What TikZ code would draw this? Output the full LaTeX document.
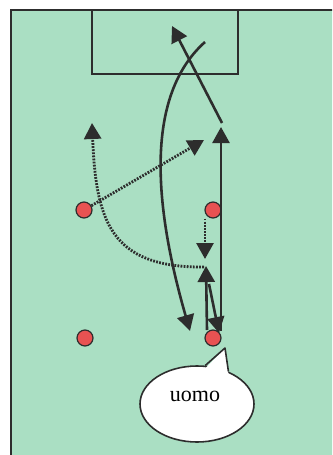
\documentclass[tikz,border=0pt]{standalone}
\usepackage{fontspec}
\setmainfont{Liberation Serif}
\usetikzlibrary{arrows.meta,shapes.geometric}
\definecolor{fieldgreen}{RGB}{170,223,195}
\definecolor{ink}{RGB}{45,45,45}
\definecolor{playerred}{RGB}{232,82,82}
\begin{document}
\begin{tikzpicture}[
        x=1pt, y=-1pt,
        player/.style={circle, draw=ink, line width=1.2pt, fill=playerred, minimum size=16pt, inner sep=0pt},
        run/.style={->, draw=ink, line width=2.6pt},
        pass/.style={->, draw=ink, line width=2.8pt, dash pattern=on 1.8pt off 1.3pt},
        bubble/.style={ellipse, draw=ink, line width=1.6pt, fill=white, minimum width=114pt, minimum height=76pt, inner sep=0pt},
        >={Triangle[width=17pt, length=16pt]}
    ]
        \useasboundingbox (0,0) rectangle (332,455);
        \clip (0,0) rectangle (332,455);
        % Field and goal box
        \fill[fieldgreen] (11,10) rectangle (340,460);
        \draw[ink, line width=2pt] (11,460) -- (11,10) -- (340,10);
        \draw[ink, line width=2pt] (92,10) rectangle (238,74);

        % Players
        \node[player] (pL) at (84,210) {};
        \node[player] (pR) at (213,210) {};
        \node[player] (pBL) at (85,338) {};
        \node[player] (pBR) at (213,338) {};

        % Arrow ends
        \coordinate (runA) at (221,331);
        \coordinate (runB) at (221,127);
        \coordinate (shotA) at (222,123);
        \coordinate (shotB) at (172,26);
        \coordinate (curveA) at (205,42);
        \coordinate (curveB) at (190,331);
        \coordinate (passA) at (204,140);
        \coordinate (dropB) at (205,259);
        \coordinate (backA) at (204,267);
        \coordinate (backB) at (92,123);
        \coordinate (upA) at (207,330);
        \coordinate (upB) at (206,266);
        \coordinate (retA) at (209,284);
        \coordinate (retB) at (219,333);
        \coordinate (tail) at (225,348);

        % Runs (solid)
        \draw[run] (runA) -- (runB);
        \draw[run] (shotA) -- (shotB);
        \draw[run] (curveA) .. controls (140,100) and (158,220) .. (curveB);
        \draw[run] (upA) -- (upB);
        \draw[run] (retA) -- (retB);

        % Passes (dotted)
        \draw[pass] (pL) -- (passA);
        \draw[pass] ([xshift=-8pt]pR.south) -- (dropB);
        \draw[pass] (backA) .. controls (110,268) and (96,220) .. (backB);

        % Speech bubble
        \node[bubble] (uomo) at (197,404) {};
        \fill[white] ([yshift=-3pt]uomo.78) -- (tail) -- ([yshift=-3pt]uomo.46) -- cycle;
        \draw[ink, line width=1.6pt, line join=round] (uomo.78) -- (tail) -- (uomo.46);
        \node[font=\fontsize{22}{26}\selectfont] (uomoText) at (195,396) {uomo};
    \end{tikzpicture}
\end{document}
